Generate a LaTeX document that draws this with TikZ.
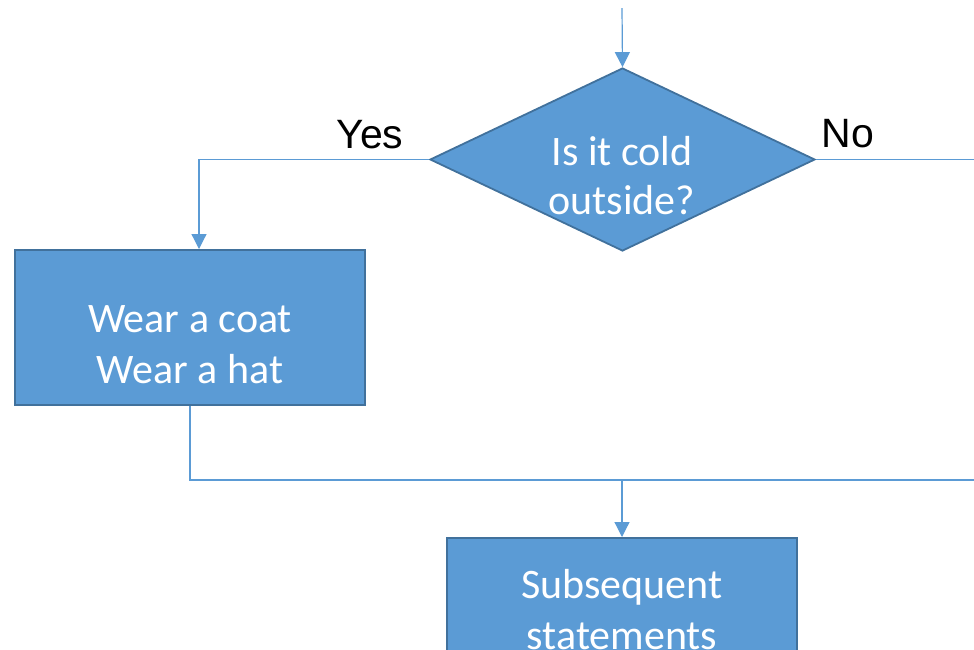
\documentclass[tikz,border=0pt]{standalone}
\usepackage{fontspec}
\setmainfont{Carlito}
\newfontfamily\arialfont{Liberation Sans}
\usetikzlibrary{shapes.geometric,arrows.meta}
\definecolor{boxfill}{HTML}{5B9BD5}
\definecolor{boxedge}{HTML}{41719C}
\definecolor{linecol}{HTML}{5B9BD5}
\tikzset{
  stepbox/.style={draw=boxedge,fill=boxfill,line width=2pt,minimum width=350pt,minimum height=155pt,inner sep=0pt},
  decision/.style={diamond,draw=boxedge,fill=boxfill,line width=1.8pt,minimum width=385pt,minimum height=183pt,shape aspect=2.104,inner sep=0pt},
  boxtext/.style={anchor=base,text=white,inner sep=0pt,font=\fontsize{42}{50}\selectfont},
  branchtext/.style={anchor=base,text=black,inner sep=0pt,font=\arialfont\fontsize{41}{48}\selectfont},
  thin flow/.style={draw=linecol,line width=1.2pt,-{Triangle[width=15pt,length=15pt]}},
  thick flow/.style={draw=linecol,line width=2pt},
}
\begin{document}
\begin{tikzpicture}[x=1pt,y=-1pt]
\useasboundingbox (0,0) rectangle (974,649);
\begin{scope}
\clip (0,0) rectangle (974,649);
\node[decision] (dia) at (622.5,159.5) {};
\node[stepbox] (box1) at (190,327.5) {};
\node[stepbox] (box2) at (622,615.5) {};
\node[boxtext] (d1) at (622,165) {Is it cold};
\node[boxtext] (d2) at (622,214) {outside?};
\node[boxtext] (b1a) at (190,332) {Wear a coat};
\node[boxtext] (b1b) at (190,383) {Wear a hat};
\node[boxtext] (b2a) at (622,598) {Subsequent};
\node[boxtext] (b2b) at (622,649) {statements};
\node[branchtext] (yes) at (370,148) {Yes};
\node[branchtext] (no) at (848,147) {No};
\coordinate (top) at (622,8);
\coordinate (noend) at (976,159.5);
\coordinate (join) at (622,480);
\coordinate (joinend) at (976,480);
\draw[thin flow] (top) -- (dia.north);
\draw[thin flow] (dia.west) -| ([xshift=9pt]box1.north);
\draw[draw=linecol,line width=1.2pt] (dia.east) -- (noend);
\draw[thick flow] (box1.south) |- (joinend);
\draw[thin flow] (join) -- (box2.north);
\end{scope}
\end{tikzpicture}
\end{document}
